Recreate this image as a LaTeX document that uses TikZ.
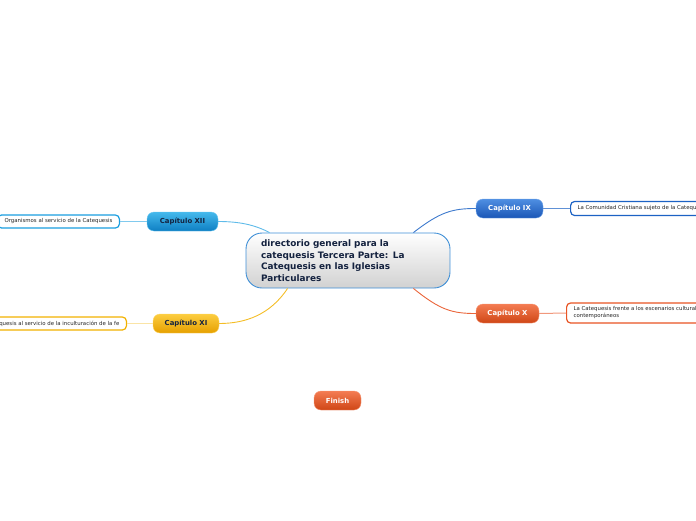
\documentclass[tikz,border=0pt]{standalone}
\usepackage{fontspec}
\setmainfont{DejaVu Sans}
\definecolor{navy}{HTML}{14223F}
\definecolor{cxiiT}{HTML}{45B9EC}\definecolor{cxiiB}{HTML}{0E7FC3}\definecolor{cxiiL}{HTML}{1A9EE0}
\definecolor{cxiT}{HTML}{FCCD40}\definecolor{cxiB}{HTML}{E6A000}\definecolor{cxiL}{HTML}{F2B200}
\definecolor{cixT}{HTML}{4F8FE2}\definecolor{cixB}{HTML}{1A56B6}\definecolor{cixL}{HTML}{1C62C4}
\definecolor{cxT}{HTML}{F47C52}\definecolor{cxB}{HTML}{CF4616}\definecolor{cxL}{HTML}{E85424}
\definecolor{cenL}{HTML}{3F8FD6}
\begin{document}
\begin{tikzpicture}[x=1pt,y=-1pt,
  chap/.style={rounded corners=7pt, minimum height=19pt, inner sep=0pt,
    font=\bfseries\fontsize{6.9}{7.5}\selectfont},
  leaf/.style={draw, fill=white, rounded corners=4pt, line width=1.2pt, inner xsep=7pt,
    inner ysep=2pt, align=left, text=black!85, font=\fontsize{5.4}{7}\selectfont},
  conn/.style={line width=0.9pt},
  lconn/.style={line width=1pt}]
\useasboundingbox (0,0) rectangle (696,520);
% central node
\node[draw=cenL, line width=0.9pt, rounded corners=16pt, top color=white, bottom color=black!18,
  minimum width=204pt, minimum height=55pt, text width=174pt, inner xsep=15pt, align=left,
  text=navy, font=\bfseries\fontsize{8.9}{11.6}\selectfont] (cen) at (348,260.5)
  {directorio general para la\\catequesis Tercera Parte: La\\Catequesis en las Iglesias\\Particulares};
% chapters
\node[chap, minimum width=71pt, top color=cxiiT, bottom color=cxiiB, draw=cxiiT!80!white, text=navy] (xii) at (182.5,221.5) {Capítulo XII};
\node[chap, minimum width=66pt, top color=cxiT, bottom color=cxiB, draw=cxiT!80!white, text=navy] (xi) at (186,323.5) {Capítulo XI};
\node[chap, minimum width=67pt, top color=cixT, bottom color=cixB, draw=cixT!80!white, text=white] (ix) at (509.5,208.5) {Capítulo IX};
\node[chap, minimum width=63pt, top color=cxT, bottom color=cxB, draw=cxT!80!white, text=white] (x) at (507.5,313.5) {Capítulo X};
\node[chap, minimum width=47pt, top color=cxT, bottom color=cxB, draw=cxT!80!white, text=white] (fin) at (337.5,400.5) {Finish};
% leaves
\node[leaf, draw=cxiiL, anchor=east, minimum height=13pt] (lxii) at (120,221.5) {Organismos al servicio de la Catequesis};
\node[leaf, draw=cxiL, anchor=east, minimum height=13pt] (lxi) at (127,323.5) {La Catequesis al servicio de la inculturación de la fe};
\node[leaf, draw=cixL, anchor=west, minimum height=14pt] (lix) at (570,208.5) {La Comunidad Cristiana sujeto de la Catequesis};
\node[leaf, draw=cxL, anchor=west, minimum height=20pt] (lx) at (566,313) {La Catequesis frente a los escenarios culturales\\contemporáneos};
% connectors center -> chapters
\draw[conn, cxiiL!70!white] ([xshift=24pt]cen.north west) .. controls (255,225) and (240,221.5) .. (xii.east);
\draw[conn, cxiL!85!white] ([xshift=42pt]cen.south west) .. controls (270,315) and (245,323.5) .. (xi.east);
\draw[conn, cixL!85!white] ([xshift=-37pt]cen.north east) .. controls (440,212) and (452,208.5) .. (ix.west);
\draw[conn, cxL!90!white] ([xshift=-37pt]cen.south east) .. controls (440,310) and (452,313.5) .. (x.west);
% connectors chapters -> leaves
\draw[lconn, cxiiL!55!white] (xii.west) -- (lxii.east);
\draw[lconn, cxiL!35!white] (xi.west) -- (lxi.east);
\draw[lconn, cixL!70!white] (ix.east) -- (lix.west);
\draw[lconn, cxL!60!white] (x.east) -- (lx.west);
\end{tikzpicture}
\end{document}
